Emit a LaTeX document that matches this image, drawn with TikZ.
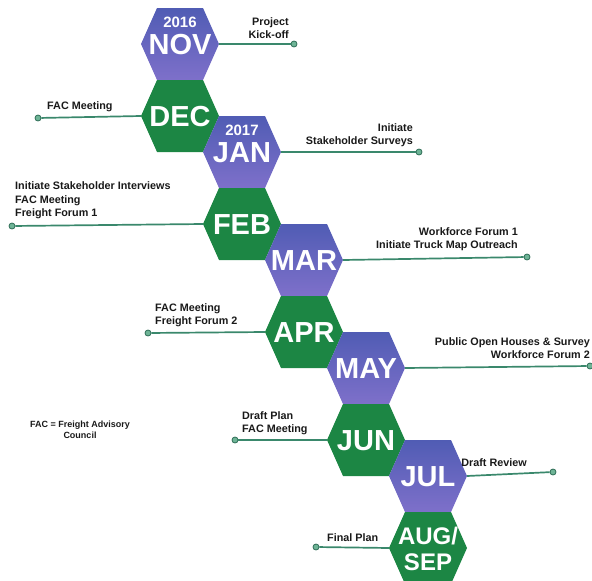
\documentclass[tikz,border=0pt]{standalone}
\usepackage{fontspec}
\setmainfont{Liberation Sans}
\usetikzlibrary{positioning}
\definecolor{hexblue}{RGB}{80,92,180}
\definecolor{hexviolet}{RGB}{126,112,202}
\definecolor{hexgreen}{RGB}{28,134,68}
\definecolor{linkgreen}{RGB}{58,136,108}
\definecolor{dotgreen}{RGB}{110,180,150}
\definecolor{labgray}{RGB}{25,25,25}

\begin{document}
\begin{tikzpicture}[x=1pt,y=-1pt,
    bluecell/.style={top color=hexblue, bottom color=hexviolet},
    greencell/.style={fill=hexgreen},
    month/.style={text=white, font=\fontsize{29}{29}\selectfont\bfseries, inner sep=0pt},
    yearlab/.style={text=white, font=\fontsize{15}{15}\selectfont\bfseries, inner sep=0pt},
    link/.style={draw=linkgreen, line width=1.7pt},
    enddot/.style={circle, draw=linkgreen!80!black, fill=dotgreen, line width=0.8pt, minimum size=6pt, inner sep=0pt},
    lab/.style={text=labgray, font=\fontsize{10.8}{13.5}\selectfont\bfseries, inner sep=0pt}]

    \useasboundingbox (0,0) rectangle (592,581);

    % Hexagon cells
    \foreach \cx/\cy/\cell in {180/44/bluecell, 180/116/greencell, 242/152/bluecell,
        242/224/greencell, 304/260/bluecell, 304/332/greencell, 366/368/bluecell,
        366/440/greencell, 428/476/bluecell, 428/548/greencell}
        \path[\cell] (\cx,\cy) +(-39,0) -- +(-23,-36) -- +(23,-36) -- +(39,0)
            -- +(23,36) -- +(-23,36) -- cycle;

    % Month names
    \node[month] (nov) at (180,45) {NOV};
    \node[yearlab, above=7pt of nov] (nov-yr) {2016};
    \node[month] (dec) at (180,117) {DEC};
    \node[month] (jan) at (242,153) {JAN};
    \node[yearlab, above=7pt of jan] (jan-yr) {2017};
    \node[month] (feb) at (242,225) {FEB};
    \node[month] (mar) at (304,261) {MAR};
    \node[month] (apr) at (304,333) {APR};
    \node[month] (may) at (366,369) {MAY};
    \node[month] (jun) at (366,441) {JUN};
    \node[month] (jul) at (428,477) {JUL};
    \node[month, align=center, font=\fontsize{24}{26}\selectfont\bfseries] (aug) at (428,549) {AUG/\\SEP};

    % Tips of the cells
    \coordinate (nov-tip) at (219,44);
    \coordinate (dec-tip) at (141,116);
    \coordinate (jan-tip) at (281,152);
    \coordinate (feb-tip) at (203,224);
    \coordinate (mar-tip) at (343,260);
    \coordinate (apr-tip) at (265,332);
    \coordinate (may-tip) at (405,368);
    \coordinate (jun-tip) at (327,440);
    \coordinate (jul-tip) at (467,476);
    \coordinate (aug-tip) at (389,548);

    % End dots
    \node[enddot] (nov-dot) at (294,44) {};
    \node[enddot] (dec-dot) at (38,118) {};
    \node[enddot] (jan-dot) at (419,152) {};
    \node[enddot] (feb-dot) at (12,226) {};
    \node[enddot] (mar-dot) at (527,257) {};
    \node[enddot] (apr-dot) at (148,333) {};
    \node[enddot] (may-dot) at (590,366) {};
    \node[enddot] (jun-dot) at (235,440) {};
    \node[enddot] (jul-dot) at (553,472) {};
    \node[enddot] (aug-dot) at (316,547) {};

    % Connectors
    \foreach \m in {nov,dec,jan,feb,mar,apr,may,jun,jul,aug}
        \draw[link] (\m-tip) -- (\m-dot);

    % Milestones
    \node[lab, anchor=south east, align=right] (nov-note) at (289,39) {Project\\Kick-off};
    \node[lab, anchor=south west] (dec-note) at (47,112) {FAC Meeting};
    \node[lab, anchor=south east, align=right] (jan-note) at (413,147) {Initiate\\Stakeholder Surveys};
    \node[lab, anchor=south west, align=left] (feb-note) at (15,219) {Initiate Stakeholder Interviews\\FAC Meeting\\Freight Forum 1};
    \node[lab, anchor=south east, align=right] (mar-note) at (518,251) {Workforce Forum 1\\Initiate Truck Map Outreach};
    \node[lab, anchor=south west, align=left] (apr-note) at (155,327) {FAC Meeting\\Freight Forum 2};
    \node[lab, anchor=south east, align=right] (may-note) at (590,359) {Public Open Houses \& Survey\\Workforce Forum 2};
    \node[lab, anchor=south west, align=left] (jun-note) at (242,435) {Draft Plan\\FAC Meeting};
    \node[lab, anchor=south east] (jul-note) at (527,467) {Draft Review};
    \node[lab, anchor=south west] (aug-note) at (327,542) {Final Plan};

    % Key
    \node[lab, font=\fontsize{9}{11}\selectfont\bfseries, align=center] (fac-key) at (80,430) {FAC = Freight Advisory\\Council};

\end{tikzpicture}
\end{document}
